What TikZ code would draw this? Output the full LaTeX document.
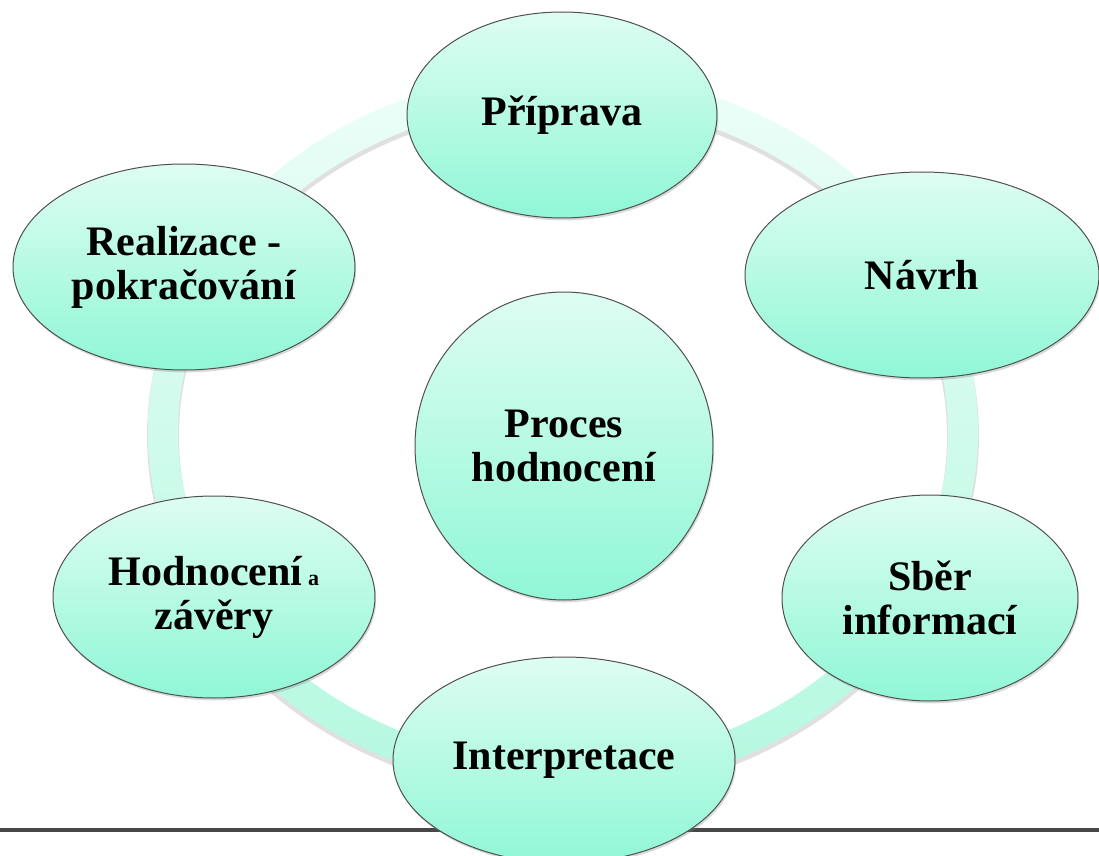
\documentclass[tikz,border=0pt]{standalone}
\usepackage{fontspec}
\setmainfont{Liberation Serif}
\usetikzlibrary{shapes.geometric, shadows}

\definecolor{mintTop}{RGB}{222,253,242}
\definecolor{mintBot}{RGB}{144,247,214}
\definecolor{ringTop}{RGB}{236,254,248}
\definecolor{ringBot}{RGB}{180,248,224}
\definecolor{rim}{RGB}{80,80,80}

\begin{document}
\begin{tikzpicture}[x=0.5pt, y=-0.5pt,
  stage/.style={ellipse, draw=rim, line width=0.5pt, inner sep=0pt,
    top color=mintTop, bottom color=mintBot,
    drop shadow={shadow xshift=0.6pt, shadow yshift=-1.2pt, opacity=0.3},
    align=center, font=\fontsize{21}{22}\selectfont\bfseries},
  every node/.style={text=black}]
\useasboundingbox (0,0) rectangle (1099,856);

% ring behind the stages
\fill[black, opacity=0.12, even odd rule, yshift=-2pt]
  (563,432) ellipse [x radius=416, y radius=361]
  (563,432) ellipse [x radius=384, y radius=329];
\shade[top color=ringTop, bottom color=ringBot, even odd rule]
  (563,432) ellipse [x radius=415, y radius=360]
  (563,432) ellipse [x radius=385, y radius=330];

% rule at the bottom
\coordinate (ruleL) at (0,830);
\coordinate (ruleR) at (1099,830);
\draw[line width=2pt, color=black!72] (ruleL) -- (ruleR);

\node[stage, minimum width=155pt, minimum height=103pt] (prip) at (562,115) {Příprava};
\node[stage, minimum width=177pt, minimum height=103pt] (navrh) at (922,275) {Návrh};
\node[stage, minimum width=148pt, minimum height=103pt] (sber) at (930,598) {Sběr\\informací};
\node[stage, minimum width=171pt, minimum height=103pt] (interp) at (564,760) {Interpretace};
\node[stage, minimum width=161pt, minimum height=101pt] (hodn) at (214,597)
  {Hodnocení{\fontsize{11}{11}\selectfont{} a}\\závěry};
\node[stage, minimum width=171pt, minimum height=103pt] (real) at (184,267) {Realizace -\\pokračování};

\node[stage, minimum width=149pt, minimum height=154pt] (proces) at (564,446) {Proces\\hodnocení};
\end{tikzpicture}
\end{document}
